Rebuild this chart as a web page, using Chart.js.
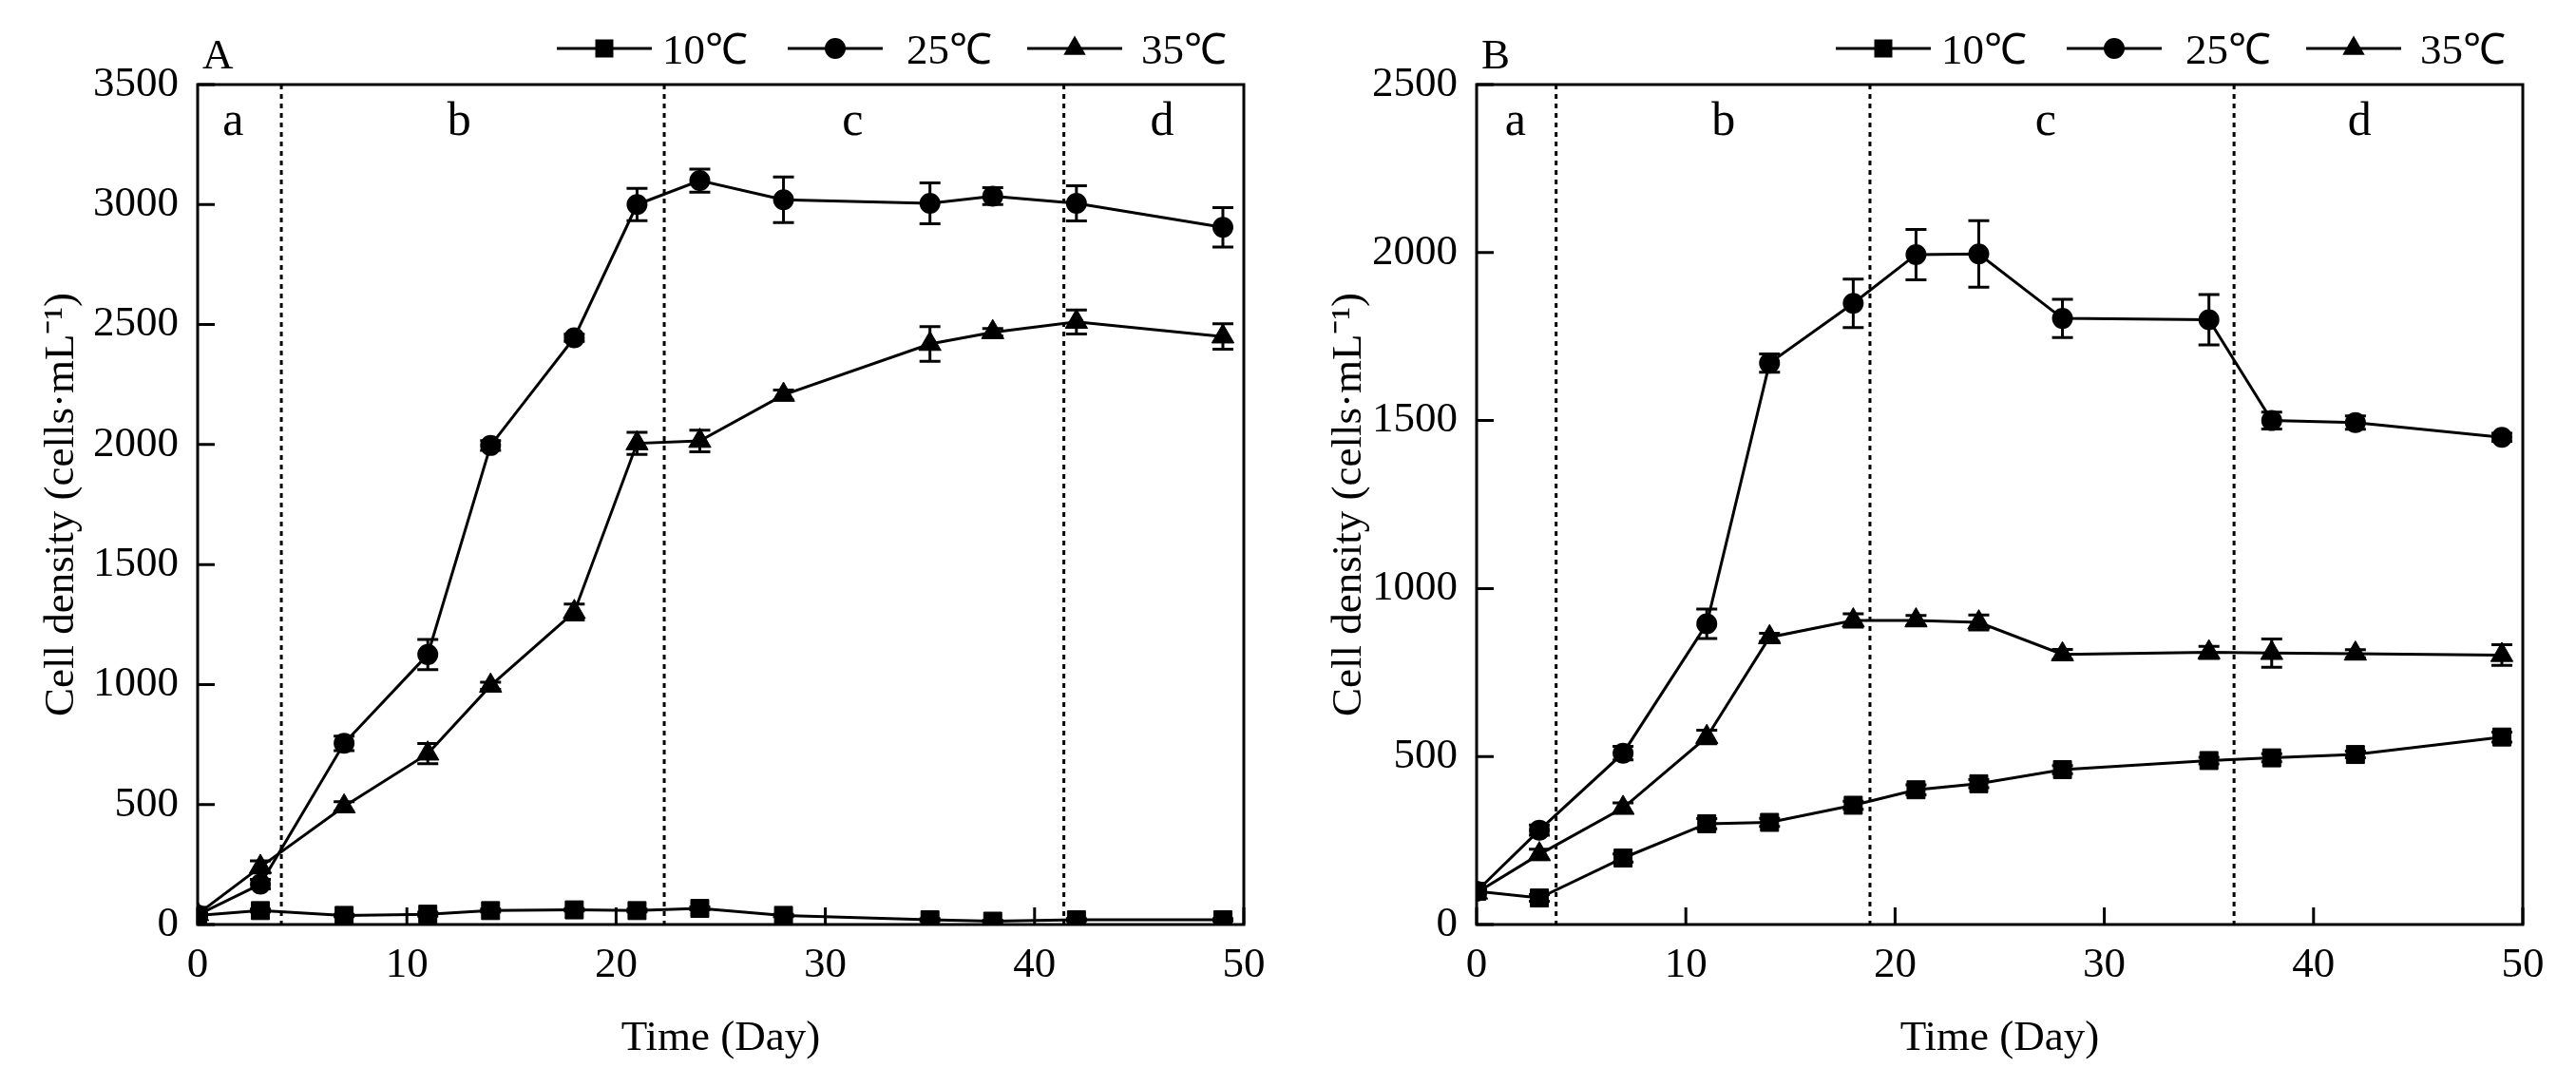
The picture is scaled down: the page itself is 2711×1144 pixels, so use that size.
<!DOCTYPE html>
<html>
<head>
<meta charset="utf-8">
<script src="https://cdn.jsdelivr.net/npm/chart.js@4.4.0/dist/chart.umd.min.js"></script>
<style>
  html, body { margin: 0; padding: 0; background: #fff; }
  #wrap { position: relative; width: 2711px; height: 1144px; }
  canvas { position: absolute; top: 0; }
</style>
</head>
<body>
<div id="wrap">
  <canvas id="chart-a" width="1355" height="1144" style="left:0"></canvas>
  <canvas id="chart-b" width="1356" height="1144" style="left:1355px"></canvas>
</div>
<script>
// sampling days (same for both panels)
const days = [0, 3, 7, 11, 14, 18, 21, 24, 28, 35, 38, 42, 49];
const seriesNames = ['10℃', '25℃', '35℃'];
const markerStyles = ['rect', 'circle', 'triangle'];

// panel A
const a10 = [38, 58, 38, 43, 58, 61, 58, 67, 38, 20, 14, 20, 20];
const a25 = [40, 168, 755, 1125, 1996, 2445, 3000, 3100, 3020, 3005, 3035, 3005, 2905];
const a35 = [43, 240, 492, 712, 995, 1302, 2005, 2015, 2207, 2419, 2468, 2511, 2450];
const a10err = [5, 6, 5, 8, 6, 5, 6, 6, 5, 5, 4, 5, 5];
const a25err = [5, 20, 30, 63, 20, 15, 67, 48, 95, 85, 35, 73, 82];
const a35err = [5, 25, 20, 42, 15, 33, 46, 45, 20, 72, 15, 50, 53];
const aPhaseLines = [4, 22.3, 41.4];
const aPhaseX = [1.7, 12.5, 31.3, 46.1];

// panel B
const b10 = [99, 79, 198, 300, 304, 355, 401, 419, 461, 488, 496, 506, 558];
const b25 = [99, 281, 510, 895, 1671, 1849, 1994, 1996, 1804, 1800, 1500, 1494, 1450];
const b35 = [95, 209, 347, 558, 855, 905, 905, 899, 804, 810, 808, 806, 802];
const b10err = [5, 10, 12, 15, 12, 12, 15, 12, 12, 10, 12, 10, 15];
const b25err = [5, 15, 20, 44, 27, 72, 75, 99, 57, 75, 25, 20, 12];
const b35err = [5, 15, 15, 20, 12, 20, 15, 22, 15, 18, 42, 12, 31];
const bPhaseLines = [3.8, 18.8, 36.2];
const bPhaseX = [1.85, 11.8, 27.2, 42.2];

const phaseNames = ['a', 'b', 'c', 'd'];
const serif = '"Liberation Serif", "Times New Roman", serif';

function drawMarker(ctx, style, x, y) {
    ctx.beginPath();
    if (style === 'rect') {
        ctx.rect(x - 9.5, y - 9.5, 19, 19);
    } else if (style === 'circle') {
        ctx.arc(x, y, 11, 0, Math.PI * 2);
    } else {
        const r = 13.5;
        ctx.moveTo(x, y - r);
        ctx.lineTo(x + r * 0.866, y + r * 0.5);
        ctx.lineTo(x - r * 0.866, y + r * 0.5);
        ctx.closePath();
    }
    ctx.fill();
}

// dotted phase lines, phase letters, error bars, box, inward ticks, legend
const extras = {
    id: 'extras',
    beforeDatasetsDraw(chart, args, opts) {
        const { ctx, chartArea: ca, scales: { x, y } } = chart;
        ctx.save();
        ctx.strokeStyle = '#000';
        ctx.lineWidth = 3;
        ctx.setLineDash([5, 5]);
        opts.lines.forEach(v => {
            const px = x.getPixelForValue(v);
            ctx.beginPath();
            ctx.moveTo(px, ca.top);
            ctx.lineTo(px, ca.bottom);
            ctx.stroke();
        });
        ctx.setLineDash([]);

        ctx.fillStyle = '#000';
        ctx.font = '50px ' + serif;
        ctx.textAlign = 'center';
        ctx.textBaseline = 'alphabetic';
        phaseNames.forEach((t, i) => ctx.fillText(t, x.getPixelForValue(opts.labelX[i]), ca.top + 53));

        ctx.beginPath();
        ctx.rect(ca.left, ca.top, ca.width, ca.height);
        ctx.clip();
        chart.data.datasets.forEach((ds, i) => {
            const err = opts.errors[i];
            ds.data.forEach((p, j) => {
                const px = x.getPixelForValue(p.x);
                const top = y.getPixelForValue(p.y + err[j]);
                const bot = y.getPixelForValue(p.y - err[j]);
                ctx.beginPath();
                ctx.moveTo(px, top); ctx.lineTo(px, bot);
                ctx.moveTo(px - 11, top); ctx.lineTo(px + 11, top);
                ctx.moveTo(px - 11, bot); ctx.lineTo(px + 11, bot);
                ctx.stroke();
            });
        });
        ctx.restore();
    },
    afterDraw(chart, args, opts) {
        const { ctx, chartArea: ca, scales: { x, y } } = chart;
        ctx.save();
        ctx.strokeStyle = '#000';
        ctx.fillStyle = '#000';
        ctx.lineWidth = 3;
        ctx.strokeRect(ca.left, ca.top, ca.width, ca.height);

        // ticks pointing inward
        ctx.beginPath();
        y.ticks.forEach(t => {
            const py = y.getPixelForValue(t.value);
            ctx.moveTo(ca.left, py); ctx.lineTo(ca.left + 18, py);
        });
        x.ticks.forEach(t => {
            const px = x.getPixelForValue(t.value);
            ctx.moveTo(px, ca.bottom); ctx.lineTo(px, ca.bottom - 18);
        });
        ctx.stroke();

        ctx.font = '45px ' + serif;
        ctx.textBaseline = 'alphabetic';
        ctx.textAlign = 'left';
        ctx.fillText(opts.panel, ca.left + 5, 72);

        // legend: line - marker - line, then text (offsets from the right edge of the plot)
        const ly = 51;
        const lineStart = [-723, -480, -228];
        const textStart = [-612, -355, -108];
        chart.data.datasets.forEach((ds, i) => {
            const l0 = ca.right + lineStart[i], l1 = l0 + 100;
            ctx.beginPath();
            ctx.moveTo(l0, ly); ctx.lineTo(l1, ly);
            ctx.stroke();
            drawMarker(ctx, markerStyles[i], (l0 + l1) / 2, ly);
            ctx.fillText(ds.label, ca.right + textStart[i], 67);
        });
        ctx.restore();
    }
};

function makeDataset(label, values, style) {
    return {
        label: label,
        data: values.map((v, i) => ({ x: days[i], y: v })),
        borderColor: '#000',
        backgroundColor: '#000',
        borderWidth: 3,
        tension: 0,
        pointStyle: style,
        pointRadius: style === 'rect' ? 13.4 : (style === 'circle' ? 10 : 13.5),
        pointBorderWidth: style === 'circle' ? 2 : 1,
        pointBackgroundColor: '#000',
        pointBorderColor: '#000'
    };
}

function renderChart(canvasId, panel, values, errors, yMax, lines, labelX, yWidth, padRight) {
    const ctx = document.getElementById(canvasId).getContext('2d');
    return new Chart(ctx, {
        type: 'line',
        data: {
            datasets: values.map((v, i) => makeDataset(seriesNames[i], v, markerStyles[i]))
        },
        options: {
            responsive: false,
            animation: false,
            devicePixelRatio: 1,
            layout: { padding: { top: 89, right: padRight, left: 0, bottom: 0 } },
            plugins: {
                legend: { display: false },
                tooltip: { enabled: false },
                extras: { panel: panel, errors: errors, lines: lines, labelX: labelX }
            },
            scales: {
                x: {
                    type: 'linear',
                    min: 0, max: 50,
                    grid: { display: false, drawTicks: false },
                    border: { display: false },
                    ticks: { stepSize: 10, padding: 16, color: '#000', font: { family: serif, size: 45 },
                             callback: v => String(v) },
                    title: { display: true, text: 'Time (Day)', color: '#000', padding: { top: 0, bottom: 24 }, font: { family: serif, size: 45 } },
                    afterFit: s => { s.height = 171; }
                },
                y: {
                    min: 0, max: yMax,
                    grid: { display: false, drawTicks: false },
                    border: { display: false },
                    ticks: { stepSize: 500, padding: 20, color: '#000', font: { family: serif, size: 45 },
                             callback: v => String(v) },
                    title: { display: true, text: 'Cell density (cells·mL⁻¹)', color: '#000', padding: { top: 38, bottom: 0 }, font: { family: serif, size: 45 } },
                    afterFit: s => { s.width = yWidth; }
                }
            }
        },
        plugins: [extras]
    });
}

renderChart('chart-a', 'A', [a10, a25, a35], [a10err, a25err, a35err], 3500, aPhaseLines, aPhaseX, 208, 46);
renderChart('chart-b', 'B', [b10, b25, b35], [b10err, b25err, b35err], 2500, bPhaseLines, bPhaseX, 199, 56);
</script>
</body>
</html>
